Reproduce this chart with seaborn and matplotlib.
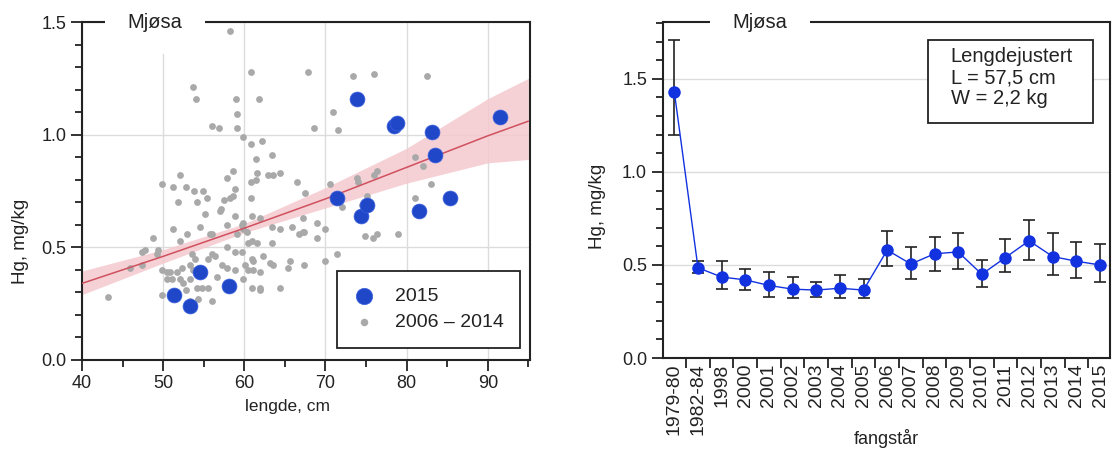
import numpy as np
import pandas as pd
import matplotlib
matplotlib.use("Agg")
import matplotlib.pyplot as plt
from matplotlib.ticker import MultipleLocator, FixedLocator, NullFormatter
from matplotlib.patches import Rectangle
import seaborn as sns

# ---------------- data: left panel ----------------
gray_len = [60.8, 67.8, 53.7, 54.0, 59.0, 61.8, 59.1, 56.0, 56.9, 59.1, 59.8, 60.8, 62.2, 61.4, 63.4,
            52.1, 58.6, 57.9, 61.6, 62.9, 63.5, 64.4, 66.5, 49.9, 51.2, 52.8, 53.8, 54.9, 55.4, 58.8,
            58.6, 58.2, 57.5, 60.8, 61.4, 60.8, 67.5, 51.8, 54.2, 57.1, 58.3,
            55.1, 57.0, 58.8, 59.8, 59.7, 60.9, 61.9, 51.2, 52.9, 54.5, 55.8, 56.0, 57.9, 59.1, 60.3,
            59.8, 63.4, 64.4, 65.9, 66.8, 67.3, 48.7, 52.1, 60.4, 60.9, 61.6, 63.4, 47.4, 47.8, 49.4,
            49.2, 57.9, 58.8, 59.7, 53.5, 53.9, 56.0, 56.4, 55.5, 62.3, 60.9, 61.1, 63.5, 63.2, 65.4,
            67.3, 45.9, 47.4, 49.9, 50.5, 50.8, 51.7, 52.3, 53.3, 53.7, 57.2, 57.9, 58.8, 60.1, 60.4,
            61.1, 61.9, 50.5, 51.1, 52.1, 53.3, 56.7, 59.8, 52.4, 52.8, 54.2, 54.8, 55.5, 60.9, 61.9,
            61.9, 64.4, 49.9, 54.3, 56.0, 43.2, 54.6, 53.3,
            73.4, 76.0, 82.5, 70.9, 68.6, 71.5, 70.5, 73.9, 74.0, 76.0, 76.3, 75.1, 81.0, 82.0, 83.0,
            81.0, 72.0, 74.5, 67.2, 68.9, 69.9, 68.9, 67.2, 74.9, 75.8, 76.3, 78.9, 69.9, 71.4, 65.6]
gray_hg = [1.28, 1.28, 1.21, 1.16, 1.16, 1.16, 1.09, 1.04, 1.03, 1.03, 0.99, 0.96, 0.97, 0.89, 0.91,
           0.82, 0.84, 0.81, 0.83, 0.82, 0.82, 0.83, 0.79, 0.78, 0.77, 0.77, 0.75, 0.75, 0.72, 0.76,
           0.73, 0.72, 0.71, 0.79, 0.80, 0.72, 0.74, 0.70, 0.70, 0.67, 1.46,
           0.65, 0.66, 0.64, 0.61, 0.60, 0.64, 0.63, 0.58, 0.56, 0.59, 0.56, 0.56, 0.60, 0.56, 0.57,
           0.58, 0.59, 0.58, 0.59, 0.56, 0.57, 0.54, 0.53, 0.52, 0.53, 0.52, 0.52, 0.48, 0.49, 0.49,
           0.47, 0.50, 0.48, 0.48, 0.47, 0.45, 0.47, 0.46, 0.45, 0.46, 0.45, 0.44, 0.42, 0.43, 0.41,
           0.42, 0.41, 0.42, 0.40, 0.39, 0.39, 0.39, 0.41, 0.42, 0.40, 0.42, 0.41, 0.40, 0.42, 0.40,
           0.40, 0.39, 0.36, 0.36, 0.36, 0.36, 0.37, 0.36, 0.34, 0.31, 0.32, 0.32, 0.32, 0.32, 0.32,
           0.31, 0.32, 0.29, 0.27, 0.26, 0.28, 0.38, 0.26,
           1.26, 1.27, 1.26, 1.10, 1.03, 1.02, 0.78, 0.81, 0.79, 0.82, 0.84, 0.73, 0.90, 0.86, 0.78,
           0.72, 0.68, 0.69, 0.63, 0.61, 0.58, 0.54, 0.57, 0.55, 0.54, 0.56, 0.56, 0.44, 0.47, 0.44]

blue_len = [54.6, 51.3, 53.3, 58.1, 71.4, 73.9, 74.4, 75.1, 78.4, 78.8, 81.5, 83.1, 83.5, 85.4, 91.5]
blue_hg = [0.39, 0.29, 0.24, 0.33, 0.72, 1.16, 0.64, 0.69, 1.04, 1.05, 0.66, 1.01, 0.91, 0.72, 1.08]

fit_len = [40, 50, 60, 70, 80, 90, 95]
fit_hg = [0.34, 0.46, 0.585, 0.715, 0.855, 0.995, 1.06]
fit_lo = [0.29, 0.43, 0.565, 0.675, 0.785, 0.875, 0.89]
fit_hi = [0.395, 0.49, 0.605, 0.765, 0.94, 1.16, 1.25]

# ---------------- data: right panel ----------------
years = ["1979-80", "1982-84", "1998", "2000", "2001", "2002", "2003", "2004", "2005",
         "2006", "2007", "2008", "2009", "2010", "2011", "2012", "2013", "2014", "2015"]
hg_mean = [1.43, 0.485, 0.435, 0.42, 0.39, 0.37, 0.365, 0.375, 0.365,
           0.58, 0.505, 0.56, 0.57, 0.45, 0.54, 0.63, 0.545, 0.52, 0.50]
hg_upper = [1.71, 0.52, 0.52, 0.48, 0.46, 0.435, 0.41, 0.445, 0.425,
            0.68, 0.595, 0.65, 0.67, 0.525, 0.64, 0.74, 0.67, 0.625, 0.61]
hg_lower = [1.20, 0.457, 0.37, 0.365, 0.33, 0.32, 0.33, 0.32, 0.32,
            0.495, 0.425, 0.47, 0.48, 0.38, 0.46, 0.525, 0.445, 0.43, 0.41]

# ---------------- style ----------------
sns.set_theme(style="white")
plt.rcParams["font.family"] = ["Liberation Sans", "DejaVu Sans"]
plt.rcParams["axes.edgecolor"] = "#222222"
plt.rcParams["text.color"] = "#222222"
plt.rcParams["xtick.color"] = "#222222"
plt.rcParams["ytick.color"] = "#222222"
plt.rcParams["axes.labelcolor"] = "#222222"

fig = plt.figure(figsize=(11.12, 4.5), dpi=100)
ax1 = fig.add_axes([0.0737, 0.200, 0.4029, 0.751])
ax2 = fig.add_axes([0.5962, 0.2044, 0.4020, 0.7466])

GRID = "#dcdcdc"
BLUE_L = "#1f47c8"
BLUE_R = "#1232e0"

# ---------------- left panel ----------------
ax1.fill_between(fit_len, fit_lo, fit_hi, color="#f4c9cf", alpha=0.85, lw=0, zorder=1)
sns.scatterplot(x=gray_len, y=gray_hg, ax=ax1, color="#a9a9a9", s=24, linewidth=0,
                label="2006 \u2013 2014", zorder=2)
sns.lineplot(x=fit_len, y=fit_hg, ax=ax1, color="#d0505e", lw=1.1, zorder=3)
sns.scatterplot(x=blue_len, y=blue_hg, ax=ax1, color=BLUE_L, s=115, linewidth=0.5,
                edgecolor="#3a60e0", label="2015", zorder=4)

ax1.set_xlim(40, 95.2)
ax1.set_ylim(0, 1.5)
ax1.xaxis.set_major_locator(MultipleLocator(10))
ax1.xaxis.set_minor_locator(MultipleLocator(5))
ax1.yaxis.set_major_locator(MultipleLocator(0.5))
ax1.yaxis.set_minor_locator(MultipleLocator(0.1))
ax1.yaxis.set_major_formatter(matplotlib.ticker.FormatStrFormatter("%.1f"))
ax1.grid(True, which="major", color=GRID, lw=1.0, zorder=0)
ax1.set_axisbelow(True)
ax1.tick_params(which="major", direction="out", length=8, width=1.3, labelsize=13,
                bottom=True, left=True, pad=3)
ax1.tick_params(which="minor", direction="out", length=5, width=1.3, bottom=True, left=True)
ax1.set_xlabel("lengde, cm", fontsize=12.5)
ax1.xaxis.set_label_coords(0.458, -0.115)
ax1.set_ylabel("Hg, mg/kg", fontsize=13.5)
ax1.yaxis.set_label_coords(-0.118, 0.35)
for sp in ax1.spines.values():
    sp.set_linewidth(1.5)
    sp.set_color("#222222")

handles, labels = ax1.get_legend_handles_labels()
order = [labels.index("2015"), labels.index("2006 \u2013 2014")]
leg = ax1.legend([handles[i] for i in order], [labels[i] for i in order],
                 loc="lower right", bbox_to_anchor=(0.978, 0.036), borderaxespad=0,
                 fontsize=14, frameon=True, fancybox=False, edgecolor="#222222",
                 framealpha=1, borderpad=0.85, handlelength=1.0, handletextpad=1.1,
                 labelspacing=0.45, markerscale=1.1)
leg.get_frame().set_linewidth(1.3)
ax1.text(0.163, 1.0, "Mjøsa", transform=ax1.transAxes, ha="center", va="center",
         fontsize=14.5, zorder=10, clip_on=False,
         bbox=dict(boxstyle="square,pad=1.1", fc="white", ec="none"))

# ---------------- right panel ----------------
yerr = [np.array(hg_mean) - np.array(hg_lower), np.array(hg_upper) - np.array(hg_mean)]
ax2.errorbar(years, hg_mean, yerr=yerr, fmt="none", ecolor="#222222", elinewidth=1.2,
             capsize=4.5, capthick=1.2, zorder=3)
sns.lineplot(x=years, y=hg_mean, ax=ax2, sort=False, color=BLUE_R, lw=1.0,
             marker="o", markersize=9, markeredgewidth=0, zorder=4)
ax2.set_xlim(-0.48, 18.42)
ax2.set_ylim(0, 1.805)
ax2.yaxis.set_major_locator(MultipleLocator(0.5))
ax2.yaxis.set_minor_locator(MultipleLocator(0.1))
ax2.yaxis.set_major_formatter(matplotlib.ticker.FormatStrFormatter("%.1f"))
ax2.xaxis.set_minor_locator(FixedLocator(np.arange(0.5, 18, 1.0)))
ax2.xaxis.set_minor_formatter(NullFormatter())
ax2.grid(True, which="major", axis="y", color=GRID, lw=1.0, zorder=0)
ax2.set_axisbelow(True)
ax2.tick_params(axis="y", which="major", direction="out", length=8, width=1.3,
                labelsize=13, left=True)
ax2.tick_params(axis="y", which="minor", direction="out", length=5, width=1.3, left=True)
ax2.tick_params(axis="x", which="major", length=0, labelsize=14, labelrotation=90, pad=4)
ax2.tick_params(axis="x", which="minor", direction="out", length=7, width=1.3, bottom=True)
ax2.set_xlabel("fangstår", fontsize=13)
ax2.xaxis.set_label_coords(0.5, -0.212)
ax2.set_ylabel("Hg, mg/kg", fontsize=13.5)
ax2.yaxis.set_label_coords(-0.128, 0.45)
for sp in ax2.spines.values():
    sp.set_linewidth(1.5)
    sp.set_color("#222222")
ax2.text(0.217, 1.0, "Mjøsa", transform=ax2.transAxes, ha="center", va="center",
         fontsize=14.5, zorder=10, clip_on=False,
         bbox=dict(boxstyle="square,pad=1.1", fc="white", ec="none"))
ax2.add_patch(Rectangle((0.593, 0.699), 0.369, 0.247, transform=ax2.transAxes,
                        fc="white", ec="#222222", lw=1.3, zorder=6))
ax2.text(0.644, 0.925, "Lengdejustert\nL = 57,5 cm\nW = 2,2 kg", transform=ax2.transAxes,
         ha="left", va="top", fontsize=14.5, linespacing=1.12, zorder=7)

fig.savefig("out.png", dpi=100)
